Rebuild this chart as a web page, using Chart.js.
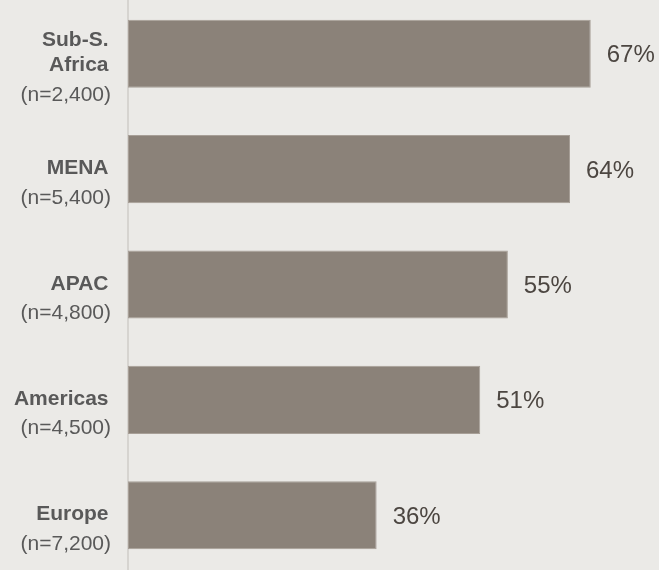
<!DOCTYPE html>
<html>
<head>
<meta charset="utf-8">
<script src="https://cdn.jsdelivr.net/npm/chart.js@4/dist/chart.umd.min.js"></script>
<style>
  html, body { margin: 0; padding: 0; background: #EBEAE7; overflow: hidden; }
  body { width: 659px; height: 570px; position: relative; }
  #wrap { position: absolute; left: 0; top: -4px; width: 659px; height: 577px; }
</style>
</head>
<body>
<div id="wrap"><canvas id="chart"></canvas></div>
<script>
// Regions (bold name lines) and their sample sizes
const regionNames = [["Sub-S.", "Africa"], ["MENA"], ["APAC"], ["Americas"], ["Europe"]];
const sampleSizes = ["(n=2,400)", "(n=5,400)", "(n=4,800)", "(n=4,500)", "(n=7,200)"];
// Share of respondents, percent
const shares = [67, 64, 55, 51, 36];

const FONT = "'Liberation Sans', Arial, Helvetica, sans-serif";

// Draws the two-style category labels left of the axis
const categoryLabels = {
  id: 'categoryLabels',
  afterDraw(chart) {
    const ctx = chart.ctx;
    const y = chart.scales.y;
    ctx.save();
    ctx.textAlign = 'right';
    ctx.textBaseline = 'alphabetic';
    regionNames.forEach((lines, i) => {
      const cy = y.getPixelForValue(i);
      let base = cy + 5 - (lines.length - 1) * 12.5;
      ctx.fillStyle = '#595959';
      ctx.font = 'bold 21px ' + FONT;
      lines.forEach((t, k) => {
        ctx.fillText(t, 108.5, base + k * 25);
      });
      const last = base + (lines.length - 1) * 25;
      ctx.font = '21px ' + FONT;
      ctx.fillText(sampleSizes[i], 111, last + 29.5);
    });
    ctx.restore();
  }
};

// Percentage labels at the end of each bar
const valueLabels = {
  id: 'valueLabels',
  afterDatasetsDraw(chart) {
    const ctx = chart.ctx;
    const meta = chart.getDatasetMeta(0);
    ctx.save();
    ctx.font = '24px ' + FONT;
    ctx.fillStyle = '#4C4641';
    ctx.textAlign = 'left';
    ctx.textBaseline = 'alphabetic';
    meta.data.forEach((bar, i) => {
      ctx.fillText(shares[i] + '%', bar.x + 16, bar.y + 8.5);
    });
    ctx.restore();
  }
};

new Chart(document.getElementById('chart'), {
  type: 'bar',
  data: {
    labels: regionNames.map(l => l.join(' ')),
    datasets: [{
      data: shares,
      backgroundColor: '#8B8279',
      borderColor: '#A79F97',
      borderWidth: 1,
      borderSkipped: false,
      categoryPercentage: 1,
      barPercentage: 0.59
    }]
  },
  options: {
    indexAxis: 'y',
    responsive: true,
    maintainAspectRatio: false,
    animation: false,
    layout: { padding: { left: 0, right: 13, top: 0, bottom: 0 } },
    plugins: { legend: { display: false }, tooltip: { enabled: false } },
    scales: {
      x: { display: false, min: 0, max: 75 },
      y: {
        display: true,
        ticks: { display: false },
        grid: { display: false },
        border: { display: true, color: '#D6D4D0', width: 2 },
        afterFit(scale) { scale.width = 128; }
      }
    }
  },
  plugins: [categoryLabels, valueLabels]
});
</script>
</body>
</html>
